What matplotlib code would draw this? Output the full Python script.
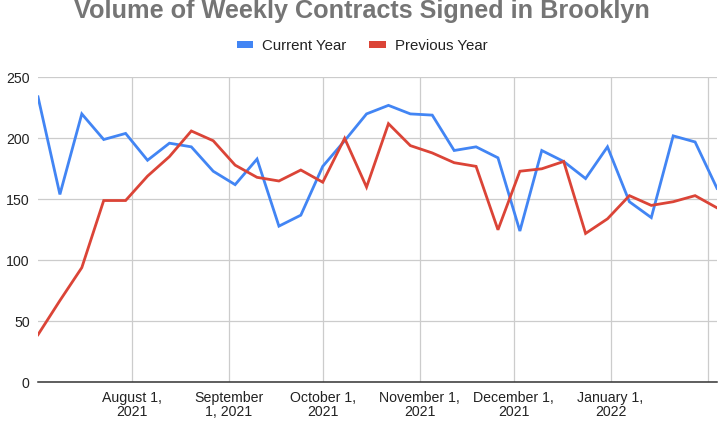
import matplotlib
matplotlib.use("Agg")
import matplotlib.pyplot as plt
from matplotlib.patches import Patch
import pandas as pd

plt.rcParams['font.family'] = ['Liberation Sans', 'DejaVu Sans']

dates = ["2021-07-02", "2021-07-09", "2021-07-16", "2021-07-23", "2021-07-30",
         "2021-08-06", "2021-08-13", "2021-08-20", "2021-08-27",
         "2021-09-03", "2021-09-10", "2021-09-17", "2021-09-24",
         "2021-10-01", "2021-10-08", "2021-10-15", "2021-10-22", "2021-10-29",
         "2021-11-05", "2021-11-12", "2021-11-19", "2021-11-26",
         "2021-12-03", "2021-12-10", "2021-12-17", "2021-12-24", "2021-12-31",
         "2022-01-07", "2022-01-14", "2022-01-21", "2022-01-28",
         "2022-02-04"]
current_year = [234, 154, 220, 199, 204, 182, 196, 193, 173, 162, 183, 128, 137, 177, 198, 220,
                227, 220, 219, 190, 193, 184, 124, 190, 181, 167, 193, 148, 135, 202, 197, 159]
previous_year = [39, 67, 94, 149, 149, 169, 185, 206, 198, 178, 168, 165, 174, 164, 200, 160,
                 212, 194, 188, 180, 177, 125, 173, 175, 181, 122, 134, 153, 145, 148, 153, 143]
tick_dates = ["2021-08-01", "2021-09-01", "2021-10-01", "2021-11-01", "2021-12-01", "2022-01-01", "2022-02-01"]
tick_labels = ["August 1,\n2021", "September\n1, 2021", "October 1,\n2021", "November 1,\n2021",
               "December 1,\n2021", "January 1,\n2022", ""]
y_ticks = [0, 50, 100, 150, 200, 250]

x = pd.to_datetime(dates)
blue = "#4285F4"
red = "#DB4437"

fig = plt.figure(figsize=(7.2, 4.28), dpi=100)
ax = fig.add_axes([38/720, (428-382.3)/428, (717-38)/720, (382.3-77.3)/428])

ax.plot(x, current_year, color=blue, lw=2.0, solid_joinstyle='miter', zorder=3)
ax.plot(x, previous_year, color=red, lw=2.0, solid_joinstyle='miter', zorder=3)

ax.set_xlim(x[0], x[-1])
ax.set_ylim(0, 250)
ax.set_yticks(y_ticks)
ax.set_xticks(pd.to_datetime(tick_dates))
ax.set_xticklabels(tick_labels, linespacing=1.0)
ax.tick_params(axis='both', length=0, labelsize=10.2, colors='#222222')
ax.tick_params(axis='y', pad=6)
ax.tick_params(axis='x', pad=6)
ax.grid(True, color='#cccccc', lw=0.9)
ax.set_axisbelow(True)
for s in ['top', 'right', 'left']:
    ax.spines[s].set_visible(False)
ax.spines['bottom'].set_color('#333333')
ax.spines['bottom'].set_linewidth(1.1)
ax.spines['bottom'].set_zorder(4)

fig.text(0.502, (428-18)/428, "Volume of Weekly Contracts Signed in Brooklyn", ha='center',
         va='baseline', fontsize=18.2, fontweight='bold', color='#757575')

handles = [Patch(facecolor=blue, label="Current Year"), Patch(facecolor=red, label="Previous Year")]
fig.legend(handles=handles, loc='center', bbox_to_anchor=(362/720, (428-46)/428), ncol=2,
           frameon=False, fontsize=10.8, handlelength=1.1, handleheight=0.35,
           handletextpad=0.6, columnspacing=1.5, labelcolor='#222222')

fig.savefig("out.png", dpi=100, facecolor='white')
